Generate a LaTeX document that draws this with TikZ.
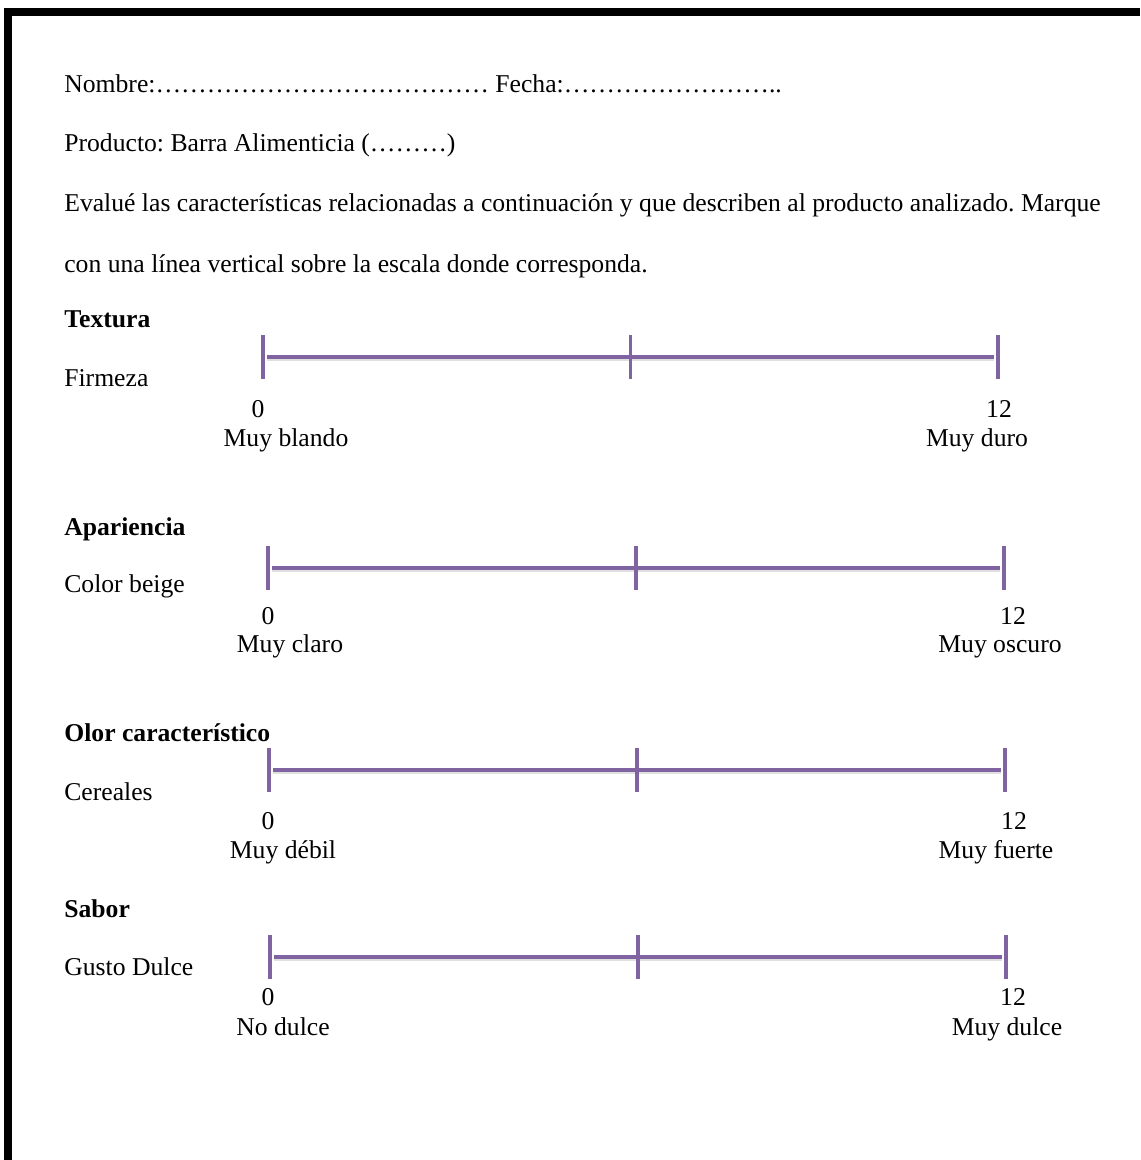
\documentclass[tikz,border=0pt]{standalone}
\usepackage{fontspec}
\setmainfont{Liberation Serif}
\definecolor{scalepurple}{HTML}{8064A2}
\frenchspacing

\begin{document}
\begin{tikzpicture}[x=0.02cm,y=-0.02cm,
  txt/.style={anchor=base west,inner sep=0pt,font=\fontsize{14.6}{17}\selectfont},
  head/.style={txt,font=\fontsize{14.6}{17}\selectfont\bfseries},
  endlbl/.style={anchor=base,inner sep=0pt,font=\fontsize{14.6}{17}\selectfont},
  bar/.style={scalepurple,line width=2.5pt},
  barshadow/.style={black!40,line width=2.5pt,opacity=0.3},
  tick/.style={scalepurple,line width=2pt}]
\useasboundingbox (0,0) rectangle (1140,1160);
\fill[white] (0,0) rectangle (1140,1160);

% frame
\fill[black] (4,8) rectangle (1140,16);
\fill[black] (4,8) rectangle (12,1160);

% header
\node[txt] (nombre) at (64,92) {Nombre:………………………………… Fecha:……………………..};
\node[txt] (producto) at (64,151) {Producto: Barra Alimenticia (………)};
\node[txt] (evalue) at (64,211) {Evalué las características relacionadas a continuación y que describen al producto analizado. Marque};
\node[txt] (marque) at (64,272) {con una línea vertical sobre la escala donde corresponda.};

% headings and attributes
\node[head] (textura) at (64,327) {Textura};
\node[txt] (firmeza) at (64,386) {Firmeza};
\node[head] (apariencia) at (64,535) {Apariencia};
\node[txt] (color) at (64,592) {Color beige};
\node[head] (olor) at (64,741) {Olor característico};
\node[txt] (cereales) at (64,800) {Cereales};
\node[head] (sabor) at (64,917) {Sabor};
\node[txt] (gusto) at (64,975) {Gusto Dulce};

% scales
\foreach \L/\R/\Y in {263/998/357, 268/1004/568, 269/1005/770, 270/1006/957}{
  \draw[barshadow] (\L+4,\Y+2) -- (\R-4,\Y+2);
  \draw[bar] (\L+4,\Y) -- (\R-4,\Y);
  \draw[tick] (\L,\Y-22) -- (\L,\Y+22);
  \draw[tick] ({(\L+\R)/2},\Y-22) -- ({(\L+\R)/2},\Y+22);
  \draw[tick] (\R,\Y-22) -- (\R,\Y+22);
}

% scale ends
\node[endlbl] (zeroA) at (258,417) {0};
\node[endlbl] (blando) at (286,446) {Muy blando};
\node[endlbl] (twelveA) at (999,417) {12};
\node[endlbl] (duro) at (977,446) {Muy duro};

\node[endlbl] (zeroB) at (268,624) {0};
\node[endlbl] (claro) at (290,652) {Muy claro};
\node[endlbl] (twelveB) at (1013,624) {12};
\node[endlbl] (oscuro) at (1000,652) {Muy oscuro};

\node[endlbl] (zeroC) at (268,829) {0};
\node[endlbl] (debil) at (283,858) {Muy débil};
\node[endlbl] (twelveC) at (1014,829) {12};
\node[endlbl] (fuerte) at (996,858) {Muy fuerte};

\node[endlbl] (zeroD) at (268,1005) {0};
\node[endlbl] (nodulce) at (283,1035) {No dulce};
\node[endlbl] (twelveD) at (1013,1005) {12};
\node[endlbl] (muydulce) at (1007,1035) {Muy dulce};
\end{tikzpicture}
\end{document}
